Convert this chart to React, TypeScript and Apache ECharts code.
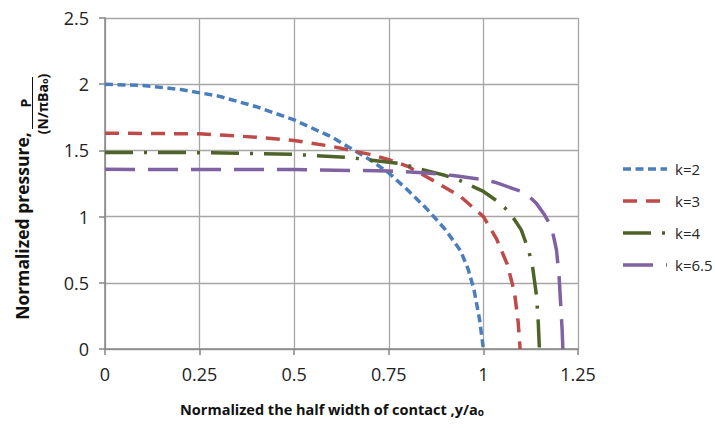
import React, { useEffect, useRef } from "react";
import * as echarts from "echarts";

const xTicks = [0, 0.25, 0.5, 0.75, 1, 1.25];
const yTicks = [0, 0.5, 1, 1.5, 2, 2.5];

const seriesNames = ["k=2", "k=3", "k=4", "k=6.5"];

const k2X = [0, 0.1, 0.2, 0.3, 0.4, 0.5, 0.6, 0.7, 0.75, 0.8, 0.85, 0.9, 0.94, 0.96, 0.975, 0.99, 1.0];
const k2Y = [2.0, 1.99, 1.96, 1.91, 1.83, 1.73, 1.6, 1.43, 1.33, 1.2, 1.06, 0.9, 0.74, 0.6, 0.45, 0.22, 0];

const k3X = [0, 0.25, 0.4, 0.5, 0.6, 0.7, 0.75, 0.8, 0.875, 0.94, 1.0, 1.035, 1.063, 1.082, 1.092, 1.097];
const k3Y = [1.63, 1.625, 1.6, 1.575, 1.53, 1.47, 1.43, 1.38, 1.26, 1.15, 1.0, 0.83, 0.64, 0.43, 0.2, 0];

const k4X = [0, 0.25, 0.5, 0.65, 0.78, 0.86, 0.9, 0.94, 1.0, 1.04, 1.07, 1.1, 1.12, 1.13, 1.14, 1.145, 1.148];
const k4Y = [1.485, 1.483, 1.47, 1.445, 1.4, 1.34, 1.31, 1.27, 1.19, 1.11, 1.03, 0.9, 0.74, 0.62, 0.41, 0.2, 0];

const k65X = [0, 0.5, 0.75, 0.85, 0.92, 1.0, 1.03, 1.08, 1.11, 1.14, 1.16, 1.18, 1.193, 1.2, 1.205, 1.208, 1.21];
const k65Y = [1.357, 1.355, 1.345, 1.33, 1.31, 1.28, 1.26, 1.21, 1.18, 1.1, 1.02, 0.92, 0.75, 0.55, 0.3, 0.15, 0];

const colors = ["#4A7EBB", "#BE4B48", "#4F6228", "#7F62A1"];
const dashes = [
  [8, 4.5],
  [14, 9],
  [28, 11, 3, 11],
  [30, 13],
];

const zip = (xs: number[], ys: number[]) => xs.map((x, i) => [x, ys[i]]);

export default function App() {
  const ref = useRef<HTMLDivElement>(null);
  useEffect(() => {
    if (!ref.current) return;
    const chart = echarts.init(ref.current, undefined, { renderer: "svg" });
    const font = "'Open Sans', 'Noto Sans', sans-serif";
    const data = [zip(k2X, k2Y), zip(k3X, k3Y), zip(k4X, k4Y), zip(k65X, k65Y)];

    const legendItems: any[] = [];
    seriesNames.forEach((name, i) => {
      const y = 169 + i * 32;
      legendItems.push({
        type: "line",
        shape: { x1: 623, y1: y, x2: 667, y2: y },
        style: { stroke: colors[i], lineWidth: 3.5, lineDash: dashes[i] },
      });
      legendItems.push({
        type: "text",
        x: 675,
        y,
        style: {
          text: name,
          font: `15px ${font}`,
          fill: "#262626",
          align: "left",
          verticalAlign: "middle",
        },
      });
    });

    chart.setOption({
      animation: false,
      backgroundColor: "#ffffff",
      grid: { left: 105, top: 18, width: 473, height: 331, containLabel: false },
      xAxis: {
        type: "value",
        min: 0,
        max: 1.25,
        interval: 0.25,
        axisLine: { show: true, lineStyle: { color: "#868686", width: 1.5 } },
        axisTick: { show: true, length: 6, lineStyle: { color: "#868686", width: 1.5 } },
        splitLine: { show: true, lineStyle: { color: "#A6A6A6", width: 1.3 } },
        axisLabel: {
          color: "#222",
          fontSize: 18,
          fontFamily: font,
          margin: 16,
          formatter: (v: number) => String(v),
        },
      },
      yAxis: {
        type: "value",
        min: 0,
        max: 2.5,
        interval: 0.5,
        axisLine: { show: true, lineStyle: { color: "#868686", width: 1.5 } },
        axisTick: { show: true, length: 6, lineStyle: { color: "#868686", width: 1.5 } },
        splitLine: { show: true, lineStyle: { color: "#A6A6A6", width: 1.3 } },
        axisLabel: {
          color: "#222",
          fontSize: 18,
          fontFamily: font,
          margin: 16,
          formatter: (v: number) => String(v),
        },
      },
      graphic: [
        ...legendItems,
        {
          type: "text",
          x: 22,
          y: 226,
          rotation: Math.PI / 2,
          style: {
            text: "Normalized pressure,",
            font: `bold 17.5px ${font}`,
            fill: "#111",
            align: "center",
            verticalAlign: "middle",
          },
        },
        {
          type: "text",
          x: 25,
          y: 103,
          rotation: Math.PI / 2,
          style: {
            text: "P",
            font: `bold 14px ${font}`,
            fill: "#111",
            align: "center",
            verticalAlign: "middle",
          },
        },
        {
          type: "line",
          shape: { x1: 32.5, y1: 77, x2: 32.5, y2: 129 },
          style: { stroke: "#111", lineWidth: 1 },
        },
        {
          type: "text",
          x: 42,
          y: 104,
          rotation: Math.PI / 2,
          style: {
            text: "(N/πBa{s|o})",
            font: `bold 14px ${font}`,
            fill: "#111",
            align: "center",
            verticalAlign: "middle",
            rich: { s: { fontSize: 9, fontWeight: "bold", fontFamily: font, padding: [5, 0, 0, 0] } },
          },
        },
        {
          type: "text",
          x: 332,
          y: 409,
          style: {
            text: "Normalized the half width of contact ,y/a{s|o}",
            font: `bold 14.5px ${font}`,
            fill: "#111",
            align: "center",
            verticalAlign: "middle",
            rich: { s: { fontSize: 10, fontWeight: "bold", fontFamily: font, padding: [6, 0, 0, 0] } },
          },
        },
      ],
      series: seriesNames.map((name, i) => ({
        name,
        type: "line",
        data: data[i],
        symbol: "none",
        smooth: false,
        lineStyle: { color: colors[i], width: 3.5, type: dashes[i], cap: "butt" },
        itemStyle: { color: colors[i] },
      })),
    });
    return () => chart.dispose();
  }, []);
  return <div ref={ref} style={{ position: "absolute", left: 0, top: 0, width: 715, height: 428 }} />;
}
